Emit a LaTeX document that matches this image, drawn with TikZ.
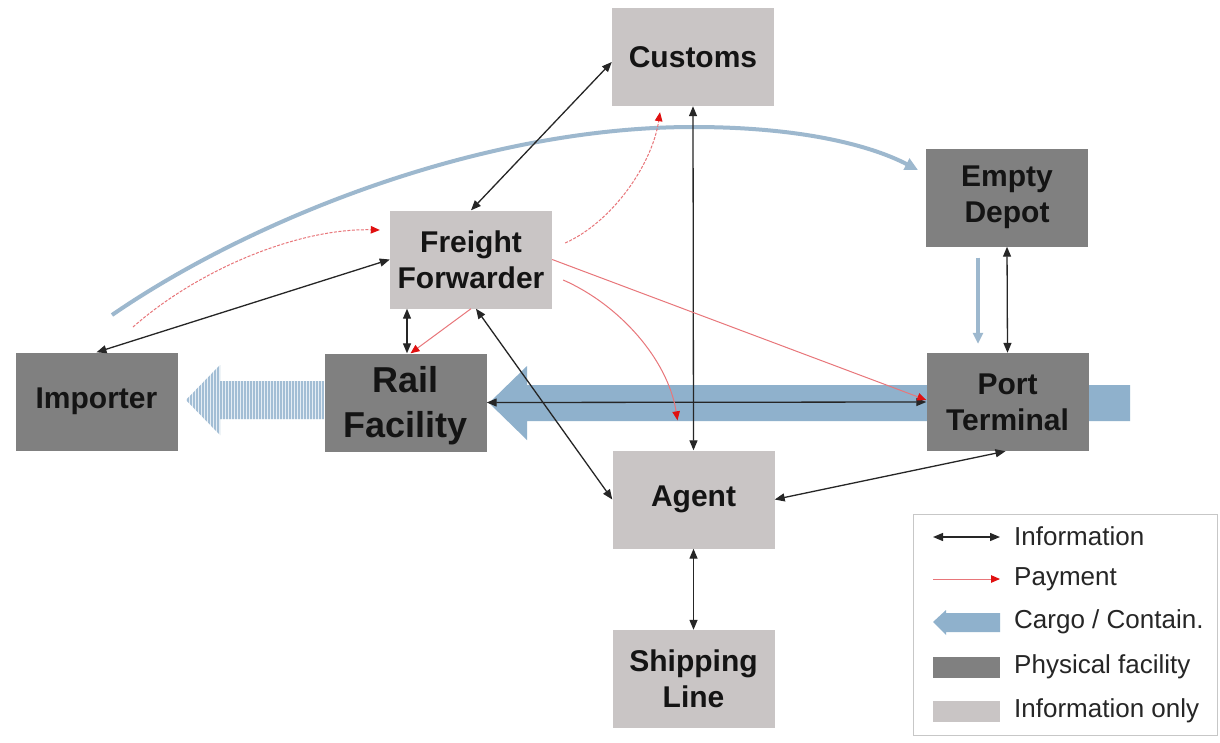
\documentclass[tikz,border=0pt]{standalone}
\usepackage{fontspec}
\setmainfont{Liberation Sans}
\usetikzlibrary{arrows.meta}

\definecolor{physgray}{HTML}{808080}
\definecolor{infogray}{HTML}{C9C5C5}
\definecolor{cargoblue}{HTML}{8FB1CC}
\definecolor{arcblue}{HTML}{9DB8CE}
\definecolor{stripebg}{HTML}{E6EEF5}
\definecolor{stripeblue}{HTML}{A3BED5}
\definecolor{payred}{HTML}{E8767A}
\definecolor{headred}{HTML}{E01010}

\begin{document}
\begin{tikzpicture}[x=1pt,y=-1pt,
  box/.style={rectangle, inner sep=0pt, minimum width=162pt, minimum height=98pt,
    align=center, text=black!92, font=\fontsize{30}{36}\selectfont\bfseries},
  phys/.style={box, fill=physgray},
  infonly/.style={box, fill=infogray},
  info/.style={draw=black!85, line width=1.3pt,
    {Triangle[length=10pt,width=8pt]}-{Triangle[length=10pt,width=8pt]}},
  pay/.style={draw=payred, line width=1pt,
    -{Triangle[length=9pt,width=7.5pt,color=headred]}},
  paydash/.style={pay, dash pattern=on 3pt off 1.5pt},
  flow/.style={draw=arcblue, line width=4pt, -{Triangle[length=13pt,width=12pt]}},
  legtxt/.style={anchor=west, inner sep=0pt, text=black!85, font=\fontsize{26}{30}\selectfont},
]
\useasboundingbox (0,0) rectangle (1220,742);
\fill[white] (0,0) rectangle (1220,742);

% cargo leaving the rail facility for the importer (striped arrow)
\begin{scope}
  \clip (186,400) -- (220,365) -- (220,381) -- (324,381) -- (324,419)
        -- (220,419) -- (220,435) -- cycle;
  \fill[stripebg] (180,360) rectangle (330,440);
  \foreach \x in {188,191,...,324}
    \draw[stripeblue, line width=1.3pt] (\x,360) -- (\x,440);
\end{scope}

% main cargo flow from the port towards the rail facility
\fill[cargoblue] (489,403) -- (527,366) -- (527,385) -- (1130,385) -- (1130,421)
  -- (527,421) -- (527,440) -- cycle;

% boxes
\node[infonly] (cust)  at (693,57)    {Customs};
\node[infonly] (ff)    at (471,259.5) {Freight\\Forwarder};
\node[phys]    (empty) at (1007,197.5){Empty\\Depot};
\node[phys]    (port)  at (1007.5,402){Port\\Terminal};
\node[phys, font=\fontsize{36}{45}\selectfont\bfseries]
               (rail)  at (405.5,402.5){};
\node[inner sep=0pt, align=center, text=black!92, font=\fontsize{36}{45}\selectfont\bfseries]
               (railtxt) at ([yshift=-3pt]rail.center) {Rail\\Facility};
\node[phys]    (imp)   at (96.5,401.5){Importer};
\node[infonly] (agent) at (693.5,499.5){Agent};
\node[infonly] (ship)  at (693.5,679) {Shipping\\Line};

% container flows (blue)
\coordinate (arcS) at (112,315);
\coordinate (arcE) at (918,170);
\draw[flow] (arcS) .. controls (250,220) and (480,127) .. (693,127)
  .. controls (800,127) and (870,145) .. (arcE);
\coordinate (dnS) at ([xshift=-29pt,yshift=-11pt]empty.south);
\coordinate (dnE) at ([xshift=-29.5pt,yshift=9pt]port.north);
\draw[flow, line width=3.5pt, -{Triangle[length=11pt,width=10pt]}] (dnS) -- (dnE);

% information flows
\draw[info] ([yshift=-5pt]cust.west) -- (ff.north);
\draw[info] (cust.south) -- (agent.north);
\draw[info] (imp.north) -- (ff.west);
\draw[info] (rail.north -| 407,0) -- (ff.south -| 407,0);
\draw[info] ([xshift=5pt]ff.south) -- (agent.west);
\draw[info] (rail.east) -- (port.west);
\draw[info] (agent.east) -- ([xshift=-2pt]port.south);
\draw[info] (agent.south) -- (ship.north);
\draw[info] (empty.south) -- (port.north);

% payment flows
\coordinate (impPay) at (133,327);
\coordinate (ffIn)   at ([xshift=-10pt,yshift=29.5pt]ff.west);
\draw[paydash] (impPay) .. controls (200,268) and (300,228) .. (ffIn);
\coordinate (ffOut1) at ([xshift=13pt,yshift=16.5pt]ff.east);
\coordinate (custIn) at ([xshift=-33pt,yshift=-6pt]cust.south);
\draw[paydash] (ffOut1) .. controls (612,222) and (652,165) .. (custIn);
\coordinate (ffOut2) at ([xshift=11pt,yshift=-20.5pt]ff.east);
\coordinate (agentIn) at ([xshift=-16pt,yshift=30pt]agent.north);
\draw[pay] (ffOut2) .. controls (620,305) and (668,360) .. (agentIn);
\draw[pay] (ff.east) -- ([yshift=2pt]port.west);
\draw[pay] (ff.south) -- ([xshift=5pt]rail.north);

% legend
\node[draw=black!22, line width=1pt, minimum width=304pt, minimum height=221pt,
  inner sep=0pt] (legend) at (1065,624.5) {};
\coordinate (l1a) at (933,537);  \coordinate (l1b) at (1000,537);
\draw[info] (l1a) -- (l1b);
\node[legtxt] (t1) at (1014,536) {Information};
\coordinate (l2a) at (933,579);  \coordinate (l2b) at (1000,579);
\draw[pay] (l2a) -- (l2b);
\node[legtxt] (t2) at (1014,579) {Payment};
\fill[cargoblue] (933,622) -- (946,610) -- (946,613) -- (1000,613) -- (1000,632)
  -- (946,632) -- (946,635) -- cycle;
\node[legtxt] (t3) at (1014,622) {Cargo / Contain.};
\node[fill=physgray, minimum width=67pt, minimum height=21pt, inner sep=0pt]
  (s4) at (966.5,667) {};
\node[legtxt] (t4) at (1014,667) {Physical facility};
\node[fill=infogray, minimum width=67pt, minimum height=21pt, inner sep=0pt]
  (s5) at (966.5,711.5) {};
\node[legtxt] (t5) at (1014,711) {Information only};
\end{tikzpicture}
\end{document}
